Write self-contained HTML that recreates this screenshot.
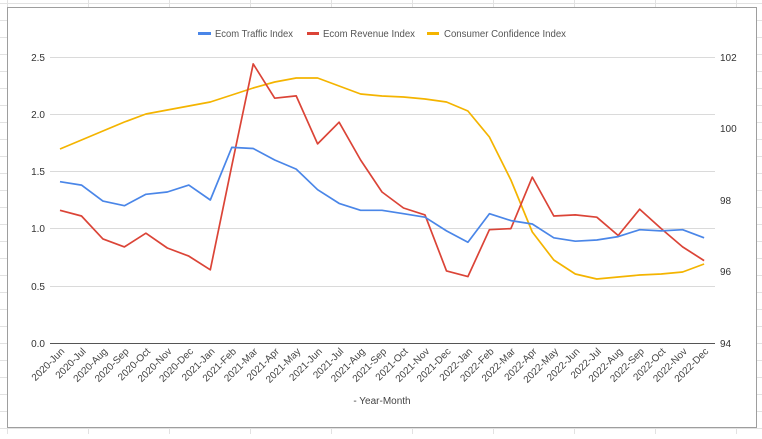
<!DOCTYPE html>
<html><head><meta charset="utf-8"><style>
body{margin:0;width:762px;height:434px;overflow:hidden;background:#fff;font-family:"Liberation Sans",Arial,sans-serif}
</style></head><body>
<svg id="s" width="762" height="434" xmlns="http://www.w3.org/2000/svg" font-family="Liberation Sans, Arial, sans-serif">
<g id="bg" stroke="#e2e2e2" stroke-width="1"></g>
<rect x="7.5" y="7.5" width="749" height="420" fill="#fff" stroke="#9e9e9e"/>
<g stroke="#dadada" stroke-width="1">
<line x1="50" x2="715" y1="57.5" y2="57.5"/>
<line x1="50" x2="715" y1="114.5" y2="114.5"/>
<line x1="50" x2="715" y1="171.5" y2="171.5"/>
<line x1="50" x2="715" y1="228.5" y2="228.5"/>
<line x1="50" x2="715" y1="286.5" y2="286.5"/>
</g>
<line x1="50" x2="715" y1="343.5" y2="343.5" stroke="#555"/>
<g font-size="10" fill="#333" text-anchor="end">
<text x="45" y="61">2.5</text><text x="45" y="118">2.0</text><text x="45" y="175">1.5</text><text x="45" y="232">1.0</text><text x="45" y="290">0.5</text><text x="45" y="347">0.0</text>
</g>
<g font-size="10" fill="#333">
<text x="720" y="61">102</text><text x="720" y="132">100</text><text x="720" y="204">98</text><text x="720" y="275">96</text><text x="720" y="347">94</text>
</g>
<g font-size="10" fill="#555">
<line x1="198" x2="211" y1="33.5" y2="33.5" stroke="#4a86e8" stroke-width="3"/><text x="215" y="37" textLength="78" lengthAdjust="spacingAndGlyphs">Ecom Traffic Index</text>
<line x1="307" x2="319" y1="33.5" y2="33.5" stroke="#db4437" stroke-width="3"/><text x="323" y="37" textLength="92" lengthAdjust="spacingAndGlyphs">Ecom Revenue Index</text>
<line x1="427" x2="439" y1="33.5" y2="33.5" stroke="#f4b400" stroke-width="3"/><text x="444" y="37" textLength="122" lengthAdjust="spacingAndGlyphs">Consumer Confidence Index</text>
</g>
<text x="382" y="404" font-size="10" fill="#444" text-anchor="middle">- Year-Month</text>
<g id="lab" font-size="10" fill="#444"></g>
<g id="ser" fill="none" stroke-width="1.7" stroke-linejoin="round"></g>
</svg>
<script>
var L=["2020-Jun","2020-Jul","2020-Aug","2020-Sep","2020-Oct","2020-Nov","2020-Dec","2021-Jan","2021-Feb","2021-Mar","2021-Apr","2021-May","2021-Jun","2021-Jul","2021-Aug","2021-Sep","2021-Oct","2021-Nov","2021-Dec","2022-Jan","2022-Feb","2022-Mar","2022-Apr","2022-May","2022-Jun","2022-Jul","2022-Aug","2022-Sep","2022-Oct","2022-Nov","2022-Dec"];
var T=[1.41,1.38,1.24,1.20,1.30,1.32,1.38,1.25,1.71,1.70,1.60,1.52,1.34,1.22,1.16,1.16,1.13,1.10,0.98,0.88,1.13,1.07,1.04,0.92,0.89,0.90,0.93,0.99,0.98,0.99,0.92];
var R=[1.16,1.11,0.91,0.84,0.96,0.83,0.76,0.64,1.55,2.44,2.14,2.16,1.74,1.93,1.60,1.32,1.18,1.12,0.63,0.58,0.99,1.00,1.45,1.11,1.12,1.10,0.94,1.17,1.00,0.84,0.72];
var C=[149,140,131,122,114,110,106,102,95,88,82,78,78,86,94,96,97,99,102,111,137,180,232,260,274,279,277,275,274,272,264];
var lab=document.getElementById('lab'),ser=document.getElementById('ser'),bg=document.getElementById('bg'),ns="http://www.w3.org/2000/svg";
function ln(x1,y1,x2,y2){var l=document.createElementNS(ns,"line");l.setAttribute("x1",x1);l.setAttribute("y1",y1);l.setAttribute("x2",x2);l.setAttribute("y2",y2);bg.appendChild(l);}
for(var x=7.5;x<762;x+=81)ln(x,0,x,434);
for(var y=3.5;y<434;y+=17)ln(0,y,762,y);
function X(i){return 60+i*21.47}
function path(ys,col){var d=ys.map(function(y,i){return (i?"L":"M")+X(i).toFixed(1)+","+y.toFixed(1)}).join("");var p=document.createElementNS(ns,"path");p.setAttribute("d",d);p.setAttribute("stroke",col);ser.appendChild(p);}
path(C,"#f4b400");
path(R.map(function(v){return 343-v*114.4}),"#db4437");
path(T.map(function(v){return 343-v*114.4}),"#4a86e8");
L.forEach(function(s,i){var t=document.createElementNS(ns,"text");var x=X(i)+5,y=352;t.setAttribute("x",x);t.setAttribute("y",y);t.setAttribute("text-anchor","end");t.setAttribute("transform","rotate(-45 "+x+" "+y+")");t.textContent=s;lab.appendChild(t);});
</script>
</body></html>
